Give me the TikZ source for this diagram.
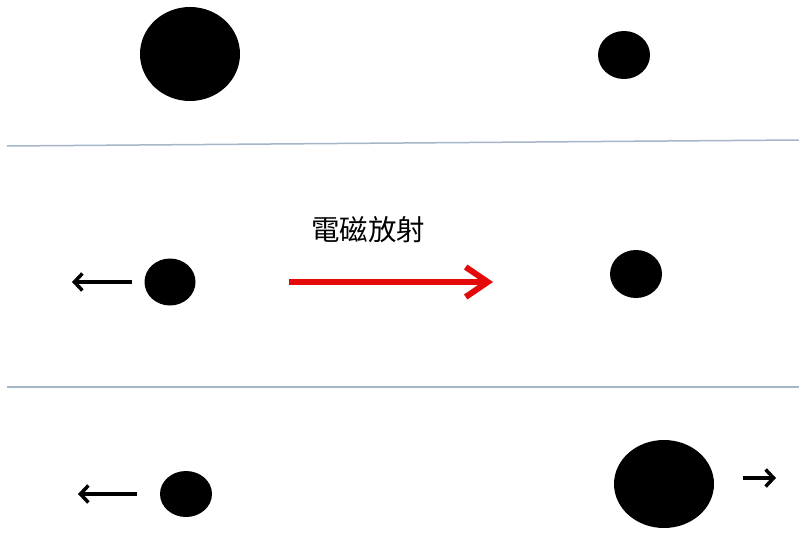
\documentclass[tikz,border=0pt]{standalone}
\usepackage{fontspec}
\newfontfamily\cjk{Noto Sans CJK TC}
\usetikzlibrary{arrows.meta}
\definecolor{sepline}{RGB}{165,182,200}
\definecolor{radred}{RGB}{228,10,10}
\tikzset{
  ball/.style={fill=black, draw=none},
  sep/.style={draw=sepline, line width=1.5pt},
  motion/.style={draw=black, line width=3.5pt, -{Straight Barb[length=8pt,width=17pt,line width=3.5pt]}},
  radiation/.style={draw=radred, line width=6pt, -{Straight Barb[length=22pt,width=30pt,line width=6pt]}}
}
\begin{document}
\begin{tikzpicture}[x=1pt,y=-1pt]
\useasboundingbox (0,0) rectangle (799,532);
% top row
\fill[ball] (190,54) ellipse [x radius=50, y radius=47];
\fill[ball] (624,55) ellipse [x radius=26, y radius=24];
% separators
\coordinate (s1a) at (7,146); \coordinate (s1b) at (799,140);
\coordinate (s2a) at (7,387); \coordinate (s2b) at (799,387);
\draw[sep] (s1a) -- (s1b);
\draw[sep] (s2a) -- (s2b);
% middle row
\node[font=\cjk\fontsize{28.5}{31}\selectfont, inner sep=0pt] (lbl) at (368,230) {電磁放射};
\coordinate (r1) at (289,282); \coordinate (r2) at (493,282);
\draw[radiation] (r1) -- (r2);
\fill[ball] (170,282) ellipse [x radius=25.5, y radius=23.5];
\coordinate (m1) at (132,282); \coordinate (m2) at (72,282);
\draw[motion] (m1) -- (m2);
\fill[ball] (636,274) ellipse [x radius=26, y radius=24];
% bottom row
\fill[ball] (186,494) ellipse [x radius=26, y radius=23];
\coordinate (b1) at (137,494); \coordinate (b2) at (78,494);
\draw[motion] (b1) -- (b2);
\fill[ball] (664,484) ellipse [x radius=50, y radius=44];
\coordinate (c1) at (743,478); \coordinate (c2) at (776,478);
\draw[motion] (c1) -- (c2);
\end{tikzpicture}
\end{document}
